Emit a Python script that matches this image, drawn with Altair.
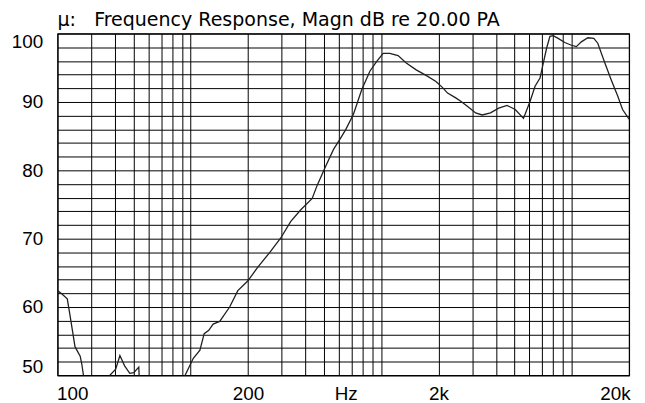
import altair as alt
import pandas as pd

# Frequency response curve (Hz, dB)
freq = [20.0, 21.1, 22.5, 23.1, 24.0, 24.7, 26.3, 26.8, 27.4, 28.0,
        35.0, 37.3, 40.4, 42.5, 45.0, 47.9, 50.3, 53.4, 54.2,
        89.0, 93.4, 103.2, 111.8, 117.7, 124.5, 131.1, 142.0, 160.1, 176.8,
        199.3, 224.6, 258.4, 297.0, 334.6, 377.3, 434.2, 461, 509, 562.8,
        609, 652, 715, 790, 872, 945, 1024, 1108, 1226, 1354, 1526, 1720,
        1938, 2100, 2230, 2462, 2616, 2888, 3130, 3392, 3746, 4138, 4574,
        5052, 5582, 6048, 6420, 6816, 7092, 7386, 7684, 7994, 8488, 9194,
        9966, 10578, 11232, 12154, 13060, 13700, 14846, 16088, 17412, 18486,
        20000]
level = [62.4, 61.9, 61.2, 59.3, 56.4, 54.2, 52.8, 51.7, 49.9, 47.0,
         47.0, 49.9, 50.9, 52.9, 51.4, 50.3, 50.4, 51.2, 47.0,
         47.0, 50.0, 52.5, 53.7, 56.1, 56.6, 57.5, 57.9, 60.0, 62.4,
         63.8, 65.8, 67.9, 70.1, 72.5, 74.2, 75.9, 77.8, 80.5, 83.1,
         84.6, 86.0, 88.2, 91.8, 94.5, 95.9, 97.1, 97.1, 96.8, 95.7, 94.7, 93.9,
         93.0, 92.1, 91.3, 90.6, 90.1, 89.2, 88.4, 88.1, 88.4, 89.1, 89.5,
         88.9, 87.6, 90.1, 92.3, 93.5, 95.7, 97.9, 99.6, 99.7, 99.3, 98.7,
         98.3, 98.1, 98.8, 99.4, 99.3, 98.6, 95.9, 93.3, 90.9, 88.9,
         87.5]

# Axis grids and tick labels
x_grid = [20, 30, 40, 50, 60, 70, 80, 90,
          100, 200, 300, 400, 500, 600, 700, 800, 900,
          1000, 2000, 3000, 4000, 5000, 6000, 7000, 8000, 9000,
          10000, 20000]
x_tick_values = [20, 200, 2000, 20000]
x_tick_labels = ["100", "200", "2k", "20k"]
y_grid = [50, 52, 54, 56, 58, 60, 62, 64, 66, 68, 70, 72, 74, 76, 78, 80,
          82, 84, 86, 88, 90, 92, 94, 96, 98, 100]
y_tick_values = [50, 60, 70, 80, 90, 100]
y_tick_labels = ["50", "60", "70", "80", "90", "100"]

title_text = "\u03bc:\u00a0\u00a0 Frequency Response, Magn dB re 20.00 PA"


def label_expr(values, labels):
    expr = "''"
    for v, l in reversed(list(zip(values, labels))):
        expr = f"datum.value == {v} ? '{l}' : ({expr})"
    return expr


df = pd.DataFrame({"freq": freq, "level": level})

FONT = "Liberation Sans"

chart = alt.Chart(df).mark_line(
    color="#231f20", strokeWidth=1.3, clip=True
).encode(
    x=alt.X(
        "freq:Q",
        scale=alt.Scale(type="log", domain=[20, 20000], nice=False),
        axis=alt.Axis(
            values=x_grid,
            labelExpr=label_expr(x_tick_values, x_tick_labels),
            grid=True, ticks=False, tickSize=0, domain=False,
            labelFlush=True, labelFlushOffset=1, labelOverlap=False,
            labelPadding=9, labelFontSize=19, labelFont=FONT,
            labelColor="black",
            title="Hz", titleX=291, titleY=24, titleBaseline="alphabetic",
            titleAlign="center", titleFontSize=19, titleFontWeight="normal",
            titleFont=FONT, titleColor="black",
        ),
    ),
    y=alt.Y(
        "level:Q",
        scale=alt.Scale(domain=[50, 100], nice=False, zero=False),
        axis=alt.Axis(
            values=y_grid,
            labelExpr=label_expr(y_tick_values, y_tick_labels),
            grid=True, ticks=False, tickSize=0, domain=False,
            labelFlush=True, labelFlushOffset=1, labelOverlap=False,
            labelPadding=15, labelFontSize=19, labelFont=FONT,
            labelColor="black", title=None,
        ),
    ),
).properties(
    width=577,
    height=345,
    title=alt.TitleParams(
        text=title_text, anchor="start", frame="group", font="DejaVu Sans",
        fontSize=19.2, fontWeight="normal", color="black",
        baseline="alphabetic", offset=5, dx=0, dy=17,
    ),
    autosize=alt.AutoSizeParams(type="none"),
    padding={"left": 50, "top": 24, "right": 8, "bottom": 26},
).configure_view(
    stroke="black", strokeWidth=1.2
).configure_axis(
    gridColor="black", gridOpacity=1, gridWidth=1
)

chart.save("out.html", embed_options={"renderer": "svg", "actions": False})
